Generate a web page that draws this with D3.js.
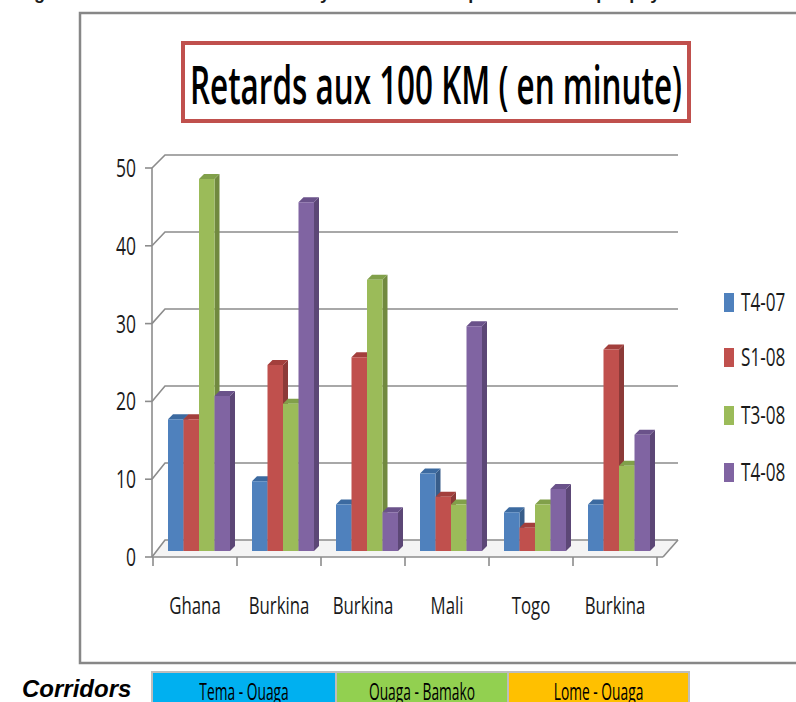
<!DOCTYPE html>
<html>
<head>
<meta charset="utf-8">
<script src="https://cdn.jsdelivr.net/npm/d3@7"></script>
<style>
  body { margin: 0; background: #fff; }
  text { font-family: "Open Sans", sans-serif; fill: #1a1a1a; }
</style>
</head>
<body>
<script>
// chart data
var categories = ["Ghana", "Burkina", "Burkina", "Mali", "Togo", "Burkina"];
var seriesNames = ["T4-07", "S1-08", "T3-08", "T4-08"];
var t4_07 = [17, 9, 6, 10, 5, 6];
var s1_08 = [17, 24, 25, 7, 3, 26];
var t3_08 = [48, 19, 35, 6, 6, 11];
var t4_08 = [20, 45, 5, 29, 8, 15];
var yTicks = [0, 10, 20, 30, 40, 50];
var corridors = ["Tema - Ouaga", "Ouaga - Bamako", "Lome - Ouaga"];

var seriesValues = [t4_07, s1_08, t3_08, t4_08];
var colors = ["#4f81bd", "#c0504d", "#9bbb59", "#8064a2"];
var sideColors = ["#385d8a", "#8c3a38", "#71893f", "#5c4776"];
var topColors = ["#3c6aa0", "#a33f3c", "#81a04a", "#6a528a"];
var corridorColors = ["#00b0f0", "#92d050", "#ffc000"];

var width = 796, height = 702;
var sx = 0.7; // the source picture is squeezed sideways

var svg = d3.select("body")
    .append("svg")
    .attr("width", width)
    .attr("height", height);

function ctext(sel, x, y, s, size, anchor, scale) {
    return sel.append("text")
        .attr("transform", "translate(" + x + "," + y + ") scale(" + (scale || sx) + ",1)")
        .attr("text-anchor", anchor || "start")
        .style("font-size", size + "px")
        .text(s);
}

// caption cut off at the top of the picture
svg.append("text")
    .attr("x", 18).attr("y", -1)
    .style("font-family", "'Liberation Sans', Arial, sans-serif")
    .style("font-weight", "bold")
    .style("font-size", "18px")
    .text("Figure 3 : Evolution des retards moyens aux 100 km par corridor et par pays");

// outer frame
svg.append("rect")
    .attr("x", 80).attr("y", 13)
    .attr("width", 760).attr("height", 650)
    .attr("fill", "none")
    .attr("stroke", "#878787")
    .attr("stroke-width", 2.5);

// title box
svg.append("rect")
    .attr("x", 183).attr("y", 43)
    .attr("width", 506).attr("height", 78)
    .attr("fill", "#fff")
    .attr("stroke", "#c0504d")
    .attr("stroke-width", 4);

svg.append("text")
    .attr("x", 190).attr("y", 104)
    .attr("textLength", 492)
    .attr("lengthAdjust", "spacingAndGlyphs")
    .style("font-size", "52px")
    .style("font-weight", "600")
    .style("fill", "#000")
    .text("Retards aux 100 KM ( en minute)");

// scales
var x = d3.scaleBand().domain(d3.range(categories.length)).range([153, 657]);
var yFront = d3.scaleLinear().domain([0, 50]).range([557, 168]);
var yBack = d3.scaleLinear().domain([0, 50]).range([540, 155]);
var yBar = d3.scaleLinear().domain([0, 50]).range([551, 163.5]);
var backDx = 13;
var backRight = 678;

// floor
svg.append("path")
    .attr("d", "M152," + yFront(0) + "L" + (152 + backDx) + "," + yBack(0) +
        "L" + backRight + "," + yBack(0) + "L" + (backRight - 15) + "," + yFront(0) + "Z")
    .attr("fill", "#f4f4f4");

var grid = svg.append("g").attr("fill", "none").attr("stroke", "#8c8c8c").attr("stroke-width", 1.6);

// gridlines on the back wall and left wall
yTicks.forEach(function(t) {
    grid.append("path")
        .attr("d", "M152," + yFront(t) + "L" + (152 + backDx) + "," + yBack(t) + "L" + backRight + "," + yBack(t));
});
grid.append("path")
    .attr("d", "M" + backRight + "," + yBack(0) + "L" + (backRight - 15) + "," + yFront(0));

// front axes
var axisG = svg.append("g").attr("stroke", "#8c8c8c").attr("stroke-width", 1.6).attr("fill", "none");
axisG.append("line").attr("x1", 152).attr("x2", 152).attr("y1", yFront(50)).attr("y2", yFront(0));
axisG.append("line").attr("x1", 152).attr("x2", backRight - 15).attr("y1", yFront(0)).attr("y2", yFront(0));
yTicks.forEach(function(t) {
    axisG.append("line").attr("x1", 145).attr("x2", 152).attr("y1", yFront(t)).attr("y2", yFront(t));
});
d3.range(categories.length + 1).forEach(function(i) {
    var xx = i < categories.length ? x(i) : x.range()[1];
    axisG.append("line").attr("x1", xx).attr("x2", xx).attr("y1", yFront(0)).attr("y2", yFront(0) + 9);
});

// y tick labels
yTicks.forEach(function(t) {
    ctext(svg, 136, yFront(t) + 9, String(t), 25, "end");
});

// category labels
categories.forEach(function(c, i) {
    ctext(svg, x(i) + x.bandwidth() / 2, 614, c, 24, "middle");
});

// 3D bars
var barW = 15.5, dx = 5, dy = 5, inner = 15;
var bars = svg.append("g");
categories.forEach(function(c, i) {
    seriesValues.forEach(function(vals, s) {
        var x0 = x(i) + inner + s * barW;
        var x1 = x0 + barW;
        var yt = yBar(vals[i]);
        var yb = yBar(0);
        var g = bars.append("g");
        g.append("path")
            .attr("d", "M" + x1 + "," + yb + "L" + (x1 + dx) + "," + (yb - dy) +
                "L" + (x1 + dx) + "," + (yt - dy) + "L" + x1 + "," + yt + "Z")
            .attr("fill", sideColors[s]);
        g.append("path")
            .attr("d", "M" + x0 + "," + yt + "L" + (x0 + dx) + "," + (yt - dy) +
                "L" + (x1 + dx) + "," + (yt - dy) + "L" + x1 + "," + yt + "Z")
            .attr("fill", topColors[s]);
        g.append("rect")
            .attr("x", x0).attr("y", yt)
            .attr("width", barW).attr("height", yb - yt)
            .attr("fill", colors[s]);
    });
});

// legend
var legendY = [302, 357, 415, 472];
seriesNames.forEach(function(n, s) {
    svg.append("rect")
        .attr("x", 724).attr("y", legendY[s] - 9)
        .attr("width", 10).attr("height", 19)
        .attr("fill", colors[s]);
    ctext(svg, 741, legendY[s] + 9, n, 26, "start", 0.66);
});

// corridors strip
svg.append("text")
    .attr("x", 22).attr("y", 697)
    .style("font-family", "'Liberation Sans', Arial, sans-serif")
    .style("font-weight", "bold")
    .style("font-style", "italic")
    .style("font-size", "24px")
    .style("fill", "#000")
    .text("Corridors");

var boxX = [152, 336, 508, 689];
corridors.forEach(function(c, i) {
    svg.append("rect")
        .attr("x", boxX[i]).attr("y", 672)
        .attr("width", boxX[i + 1] - boxX[i]).attr("height", 40)
        .attr("fill", corridorColors[i])
        .attr("stroke", "#bdbdbd")
        .attr("stroke-width", 2);
    ctext(svg, (boxX[i] + boxX[i + 1]) / 2, 700, c, 23, "middle", 0.6)
        .style("fill", "#000");
});
</script>
</body>
</html>
